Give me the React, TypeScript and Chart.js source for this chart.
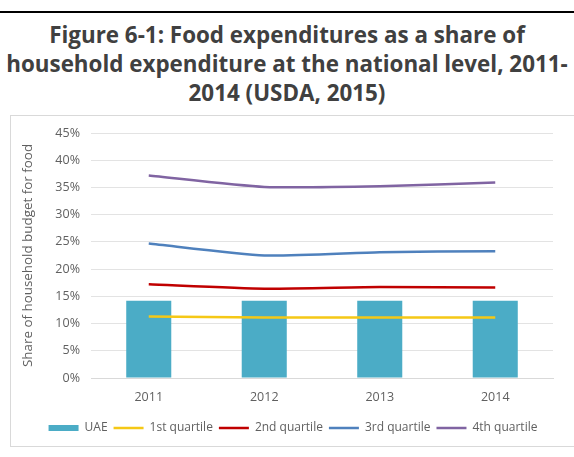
import React, { useEffect, useRef } from "react";
import { Chart, registerables } from "chart.js";

Chart.register(...registerables);

const titleLines = [
  "Figure 6-1: Food expenditures as a share of",
  "household expenditure at the national level, 2011-",
  "2014 (USDA, 2015)",
];
const years = ["2011", "2012", "2013", "2014"];
const uae = [14.2, 14.2, 14.2, 14.2];
const quartile1 = [11.3, 11.1, 11.1, 11.1];
const quartile2 = [17.2, 16.4, 16.7, 16.6];
const quartile3 = [24.7, 22.5, 23.1, 23.3];
const quartile4 = [37.2, 35.1, 35.2, 35.9];
const yAxisTitle = "Share of household budget for food";

const FONT = "'Open Sans', sans-serif";
const GRAY = "#606060";

export default function App() {
  const ref = useRef<HTMLCanvasElement | null>(null);

  useEffect(() => {
    if (!ref.current) return;
    const lineDs = (label: string, data: number[], color: string) => ({
      type: "line" as const,
      label,
      data,
      borderColor: color,
      backgroundColor: color,
      borderWidth: 2.5,
      pointRadius: 0,
      tension: 0.2,
      order: 0,
    });
    const chart = new Chart(ref.current, {
      type: "bar",
      data: {
        labels: years,
        datasets: [
          {
            type: "bar" as const,
            label: "UAE",
            data: uae,
            backgroundColor: "#4BACC6",
            barPercentage: 0.39,
            categoryPercentage: 1,
            order: 1,
          },
          lineDs("1st quartile", quartile1, "#F5C816"),
          lineDs("2nd quartile", quartile2, "#C00000"),
          lineDs("3rd quartile", quartile3, "#4F81BD"),
          lineDs("4th quartile", quartile4, "#8064A2"),
        ] as any,
      },
      options: {
        responsive: false,
        animation: false,
        layout: { padding: { left: 33, right: 21, top: 133, bottom: 13 } },
        font: { family: FONT, size: 12 },
        plugins: {
          legend: {
            position: "bottom",
            labels: {
              color: GRAY,
              font: { family: FONT, size: 12 },
              usePointStyle: true,
              pointStyleWidth: 30,
              boxHeight: 6,
              padding: 6,
              sort: (a: any, b: any) => a.datasetIndex - b.datasetIndex,
              generateLabels: (c: any) => {
                const base = Chart.defaults.plugins.legend.labels.generateLabels(c);
                return base.map((l: any) => {
                  const ds = c.data.datasets[l.datasetIndex];
                  if (ds.type === "line") {
                    return {
                      ...l,
                      pointStyle: "line",
                      lineWidth: 2.5,
                      strokeStyle: ds.borderColor,
                    };
                  }
                  return {
                    ...l,
                    pointStyle: "rect",
                    lineWidth: 0,
                    fillStyle: ds.backgroundColor,
                    strokeStyle: ds.backgroundColor,
                  };
                });
              },
            },
          },
          tooltip: { enabled: false },
        },
        scales: {
          x: {
            offset: true,
            grid: { display: false, drawTicks: false },
            border: { display: true, color: "#d9d9d9" },
            ticks: { color: GRAY, font: { family: FONT, size: 12.5 }, padding: 12 },
            afterFit: (s: any) => {
              s.height = 38;
            },
          },
          y: {
            min: 0,
            max: 45,
            ticks: {
              stepSize: 5,
              color: GRAY,
              font: { family: FONT, size: 12.5 },
              padding: 11,
              callback: (v: any) => v + "%",
            },
            grid: { color: "#e3e3e3", drawTicks: false },
            border: { display: false },
            title: {
              display: true,
              text: yAxisTitle,
              color: GRAY,
              font: { family: FONT, size: 13.4 },
              padding: { top: -13, bottom: 0 },
            },
            afterFit: (s: any) => {
              s.width = 58;
            },
          },
        },
      },
    });
    return () => chart.destroy();
  }, []);

  return (
    <div
      style={{
        position: "absolute",
        left: 0,
        top: 0,
        width: 574,
        height: 457,
        background: "#fff",
        overflow: "hidden",
      }}
    >
      <div
        style={{
          position: "absolute",
          left: 0,
          top: 11,
          width: 574,
          height: 2,
          background: "#000",
        }}
      />
      <div
        style={{
          position: "absolute",
          left: 0,
          top: 20,
          width: 574,
          textAlign: "center",
          fontFamily: FONT,
          fontWeight: 700,
          fontSize: 22.4,
          lineHeight: "29px",
          color: "#404040",
          whiteSpace: "nowrap",
        }}
      >
        {titleLines.map((t) => (
          <div key={t}>{t}</div>
        ))}
      </div>
      <div
        style={{
          position: "absolute",
          left: 10,
          top: 115,
          width: 600,
          height: 332,
          border: "1px solid #d9d9d9",
          boxSizing: "border-box",
        }}
      />
      <canvas
        ref={ref}
        width={574}
        height={457}
        style={{ position: "absolute", left: 0, top: 0, width: 574, height: 457 }}
      />
    </div>
  );
}
